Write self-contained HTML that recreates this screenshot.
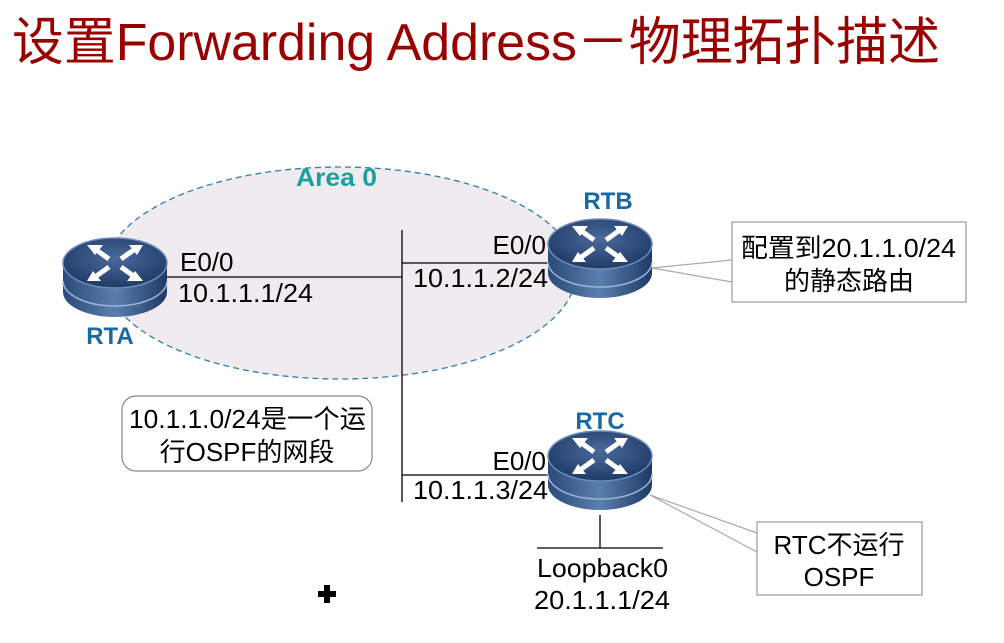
<!DOCTYPE html>
<html><head><meta charset="utf-8"><style>
body{margin:0;background:#fff;}
svg{display:block;font-family:"Liberation Sans","Noto Sans CJK SC",sans-serif;}
</style></head><body>
<svg width="1004" height="643" viewBox="0 0 1004 643" xmlns="http://www.w3.org/2000/svg">
<defs>
<linearGradient id="body" x1="0" x2="1" y1="0" y2="0">
<stop offset="0" stop-color="#2a4a78"/><stop offset="0.5" stop-color="#5a7fae"/><stop offset="1" stop-color="#1e3a66"/>
</linearGradient>
<radialGradient id="top" cx="0.5" cy="0.4" r="0.6">
<stop offset="0" stop-color="#4a6a9c"/><stop offset="1" stop-color="#1f3a66"/>
</radialGradient>
<g id="router">
<path d="M-52,0 L-52,29 A52,25 0 0 0 52,29 L52,0 Z" fill="url(#body)"/>
<path d="M-52,18 A52,25 0 0 0 52,18" fill="none" stroke="#9fb6d6" stroke-width="1.5"/>
<ellipse cx="0" cy="0" rx="52" ry="25" fill="url(#top)" stroke="#6c8cba" stroke-width="1.5"/>
<g stroke="#fff" stroke-width="5" fill="none">
<path d="M-20,-14 L-6,-4"/><path d="M20,14 L6,4"/><path d="M20,-14 L6,-4"/><path d="M-20,14 L-6,4"/>
</g>
<g fill="#fff">
<polygon points="-28,-18 -12,-18 -20,-8"/><polygon points="28,18 12,18 20,8"/>
<polygon points="28,-18 14,-18 22,-8"/><polygon points="-28,18 -14,18 -22,8"/>
</g>
</g>
</defs>
<text x="12" y="60" font-size="52" fill="#990000" textLength="928" lengthAdjust="spacingAndGlyphs">设置Forwarding Address－物理拓扑描述</text>
<ellipse cx="340" cy="273" rx="236" ry="106" fill="#efebef" stroke="#2f7fa8" stroke-width="1.3" stroke-dasharray="6,4"/>
<text x="296" y="186" font-size="25" font-weight="bold" fill="#1aa0a0" textLength="81" lengthAdjust="spacingAndGlyphs">Area 0</text>
<g stroke="#000" stroke-width="1.3" fill="none">
<line x1="166" y1="277" x2="402" y2="277"/>
<line x1="402" y1="230" x2="402" y2="502"/>
<line x1="402" y1="263" x2="550" y2="263"/>
<line x1="402" y1="475" x2="550" y2="475"/>
<line x1="600" y1="515" x2="600" y2="548"/>
<line x1="537" y1="548" x2="663" y2="548"/>
</g>
<g stroke="#aaa" stroke-width="1.2">
<line x1="652" y1="268" x2="732" y2="260"/><line x1="652" y1="268" x2="732" y2="282"/>
<line x1="650" y1="495" x2="757" y2="533"/><line x1="650" y1="495" x2="757" y2="552"/>
</g>
<use href="#router" x="115" y="263"/>
<use href="#router" x="600" y="244"/>
<use href="#router" x="600" y="456"/>
<g font-size="24" font-weight="bold" fill="#1a6aa0" text-anchor="middle">
<text x="110" y="344">RTA</text><text x="608" y="209">RTB</text><text x="600" y="429">RTC</text>
</g>
<g font-size="26" fill="#000">
<text x="180" y="271">E0/0</text><text x="178" y="302" textLength="135" lengthAdjust="spacingAndGlyphs">10.1.1.1/24</text>
<text x="546" y="254" text-anchor="end">E0/0</text><text x="413" y="287" textLength="135" lengthAdjust="spacingAndGlyphs">10.1.1.2/24</text>
<text x="546" y="470" text-anchor="end">E0/0</text><text x="413" y="499" textLength="135" lengthAdjust="spacingAndGlyphs">10.1.1.3/24</text>
<text x="537" y="577" textLength="131" lengthAdjust="spacingAndGlyphs">Loopback0</text><text x="534" y="609" textLength="136" lengthAdjust="spacingAndGlyphs">20.1.1.1/24</text>
</g>
<rect x="732" y="222" width="234" height="80" fill="#fff" stroke="#999" stroke-width="1.2"/>
<text x="741" y="257" font-size="26" textLength="215" lengthAdjust="spacingAndGlyphs">配置到20.1.1.0/24</text>
<text x="849" y="290" font-size="26" text-anchor="middle">的静态路由</text>
<rect x="757" y="522" width="165" height="73" fill="#fff" stroke="#999" stroke-width="1.2"/>
<text x="839" y="554" font-size="26" text-anchor="middle">RTC不运行</text>
<text x="839" y="586" font-size="26" text-anchor="middle">OSPF</text>
<rect x="122" y="396" width="250" height="75" rx="14" fill="#fff" stroke="#888" stroke-width="1.2"/>
<text x="129" y="428" font-size="26" textLength="237" lengthAdjust="spacingAndGlyphs">10.1.1.0/24是一个运</text>
<text x="247" y="461" font-size="26" text-anchor="middle">行OSPF的网段</text>
<path d="M324,585 h6 v6 h6 v6 h-6 v6 h-6 v-6 h-6 v-6 h6 z" fill="#000"/>
</svg>
</body></html>
